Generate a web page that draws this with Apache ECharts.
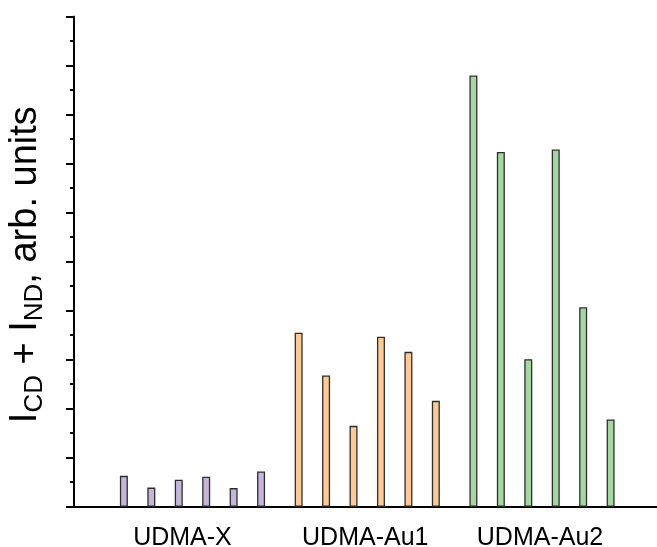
<!DOCTYPE html>
<html>
<head>
<meta charset="utf-8">
<script src="https://cdn.jsdelivr.net/npm/echarts@6/dist/echarts.min.js"></script>
<style>
html,body{margin:0;padding:0;background:#fff;}
#chart{width:657px;height:547px;}
</style>
</head>
<body>
<div id="chart"></div>
<script>
const categories = ['UDMA-X', 'UDMA-Au1', 'UDMA-Au2'];
const udmaX   = [0.63, 0.39, 0.55, 0.61, 0.38, 0.72];
const udmaAu1 = [3.55, 2.68, 1.65, 3.47, 3.16, 2.16];
const udmaAu2 = [8.80, 7.24, 3.01, 7.29, 4.07, 1.78];
const groupColors = ['#c5b5db', '#ffc995', '#a3d8a0'];

const FONT = '"Liberation Sans", Arial, sans-serif';
const groups = [udmaX, udmaAu1, udmaAu2];

const barSeries = [];
for (let i = 0; i < 6; i++) {
  barSeries.push({
    type: 'bar',
    xAxisIndex: 2,
    yAxisIndex: 2,
    barWidth: 8,
    barGap: '243%',
    data: groups.map((g, gi) => ({
      value: g[i],
      itemStyle: { color: groupColors[gi] }
    })),
    itemStyle: { borderColor: '#2e2e2e', borderWidth: 1.3 },
    emphasis: { disabled: true },
    animation: false
  });
}

const labelStyle = { fontSize: 25, fontFamily: FONT, color: '#000' };

const chart = echarts.init(document.getElementById('chart'), null, { renderer: 'canvas' });
chart.setOption({
  backgroundColor: '#fff',
  animation: false,
  grid: [
    { left: 74, right: -3, top: 16.7, bottom: 40.3, containLabel: false, outerBoundsMode: 'none' },
    { left: 105.1, right: 27.6, top: 16.7, bottom: 40.3, containLabel: false, outerBoundsMode: 'none' }
  ],
  xAxis: [
    { gridIndex: 0, type: 'value', min: 0, max: 1, position: 'bottom',
      axisLine: { show: true, lineStyle: { color: '#000', width: 2 } },
      axisTick: { show: false }, axisLabel: { show: false }, splitLine: { show: false } },
    { gridIndex: 0, type: 'value', min: 0, max: 1, position: 'top',
      axisLine: { show: true, lineStyle: { color: '#000', width: 2 } },
      axisTick: { show: false }, axisLabel: { show: false }, splitLine: { show: false } },
    { gridIndex: 1, type: 'category', data: categories, position: 'bottom',
      axisLine: { show: false }, axisTick: { show: false }, splitLine: { show: false },
      axisLabel: Object.assign({ show: true, margin: 19, interval: 0, hideOverlap: false,
        formatter: (v, idx) => idx === 0 ? '{a|' + v + '}' : '{b|' + v + '}',
        rich: {
          a: Object.assign({ padding: [0, 20, 0, 0] }, labelStyle),
          b: Object.assign({ padding: [0, 4, 0, 0] }, labelStyle)
        } }, labelStyle) }
  ],
  yAxis: [
    { gridIndex: 0, type: 'value', min: 0, max: 10, interval: 1, position: 'left',
      axisLine: { show: true, lineStyle: { color: '#000', width: 2 } },
      axisTick: { show: true, inside: false, length: 8, lineStyle: { color: '#000', width: 2 } },
      minorTick: { show: true, splitNumber: 2, length: 4, lineStyle: { color: '#000', width: 2 } },
      axisLabel: { show: false }, splitLine: { show: false },
      name: '{m|I}{s|CD}{m| + I}{s|ND}{m|, arb. units}',
      nameLocation: 'middle', nameGap: 26,
      nameTextStyle: {
        color: '#000', fontFamily: FONT, padding: [0, 6, 0, 0],
        rich: {
          m: { fontSize: 38, fontFamily: FONT, color: '#000', lineHeight: 44 },
          s: { fontSize: 26, fontFamily: FONT, color: '#000', verticalAlign: 'bottom', lineHeight: 14 }
        }
      }
    },
    { gridIndex: 0, type: 'value', min: 0, max: 10, interval: 1, position: 'right',
      axisLine: { show: true, lineStyle: { color: '#000', width: 2 } },
      axisTick: { show: true, inside: true, length: 5, lineStyle: { color: '#000', width: 1.5 } },
      axisLabel: { show: false }, splitLine: { show: false } },
    { gridIndex: 1, type: 'value', min: 0, max: 10, show: false, splitLine: { show: false } }
  ],
  series: barSeries
});
</script>
</body>
</html>
